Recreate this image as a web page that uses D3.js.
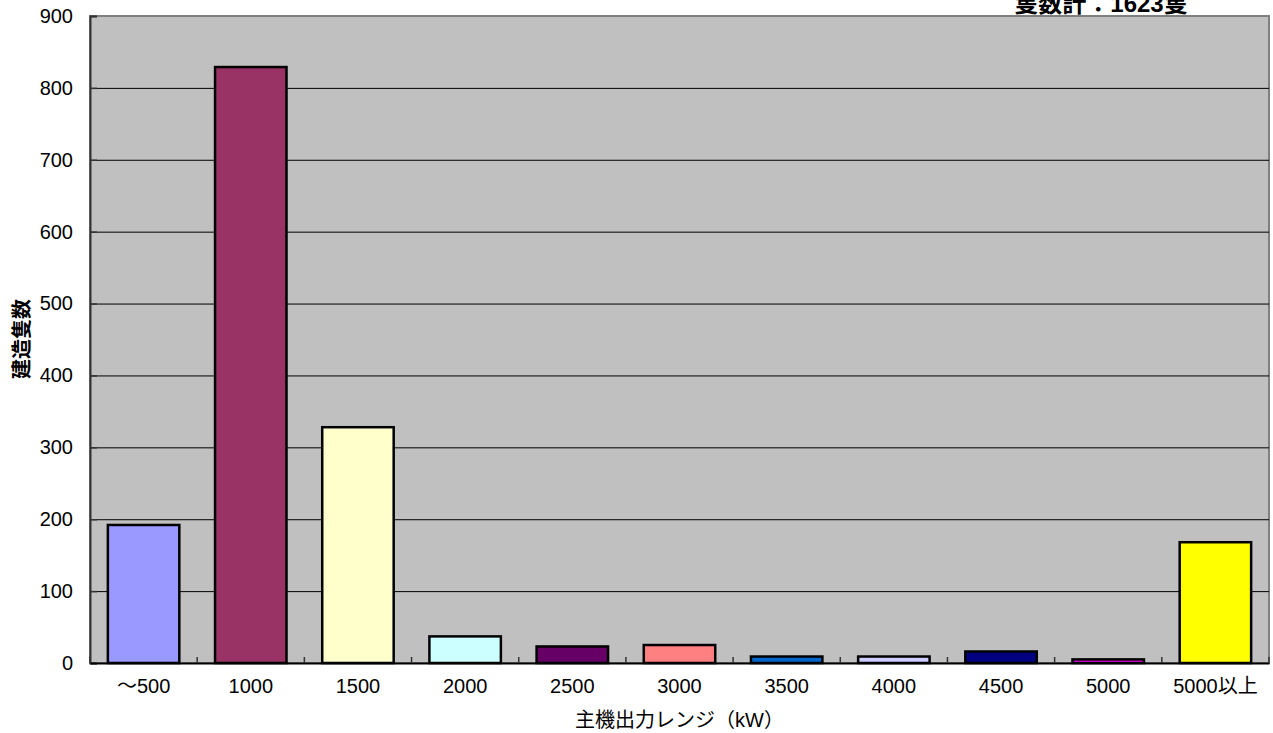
<!DOCTYPE html>
<html lang="ja">
<head>
<meta charset="utf-8" />
<script src="https://d3js.org/d3.v7.min.js"></script>
<style>
  body { margin: 0; background: #fff; }
  svg text { font-family: "Liberation Sans", "Noto Sans CJK JP", sans-serif; fill: #000; }
</style>
</head>
<body>
<svg id="chart" width="1273" height="733"></svg>
<script>
// ---- data ----
var categories = ["～500", "1000", "1500", "2000", "2500", "3000", "3500", "4000", "4500", "5000", "5000以上"];
var counts     = [192, 829, 328, 37, 23, 25, 9, 9, 16, 5, 168];
var barColors  = ["#9999FF", "#993366", "#FFFFCC", "#CCFFFF", "#660066", "#FF8080",
                  "#0066CC", "#CCCCFF", "#000080", "#FF00FF", "#FFFF00"];
var yTicks     = [0, 100, 200, 300, 400, 500, 600, 700, 800, 900];
var titleText  = "隻数計：1623隻";
var xTitle     = "主機出力レンジ（kW）";
var yTitle     = "建造隻数";

// ---- layout ----
var plot = {left: 90, right: 1269, top: 16, bottom: 663};
var svg = d3.select("#chart");

var x = d3.scaleBand()
    .domain(categories)
    .range([plot.left, plot.right])
    .paddingInner(1 / 3)
    .paddingOuter(1 / 6);

var y = d3.scaleLinear()
    .domain([0, 900])
    .range([plot.bottom, plot.top]);

// fond gris
svg.append("rect")
    .attr("x", plot.left).attr("y", plot.top)
    .attr("width", plot.right - plot.left)
    .attr("height", plot.bottom - plot.top)
    .attr("fill", "#C0C0C0")
    .attr("stroke", "#808080")
    .attr("stroke-width", 2);

// grille horizontale
svg.append("g")
    .selectAll("line")
    .data(yTicks.filter(function(d) { return d > 0 && d < 900; }))
    .enter()
    .append("line")
    .attr("x1", plot.left).attr("x2", plot.right)
    .attr("y1", function(d) { return y(d) + 0.5; })
    .attr("y2", function(d) { return y(d) + 0.5; })
    .attr("stroke", "#000")
    .attr("stroke-width", 1);

// barres
svg.append("g")
    .selectAll("rect")
    .data(counts)
    .enter()
    .append("rect")
    .attr("x", function(d, i) { return x(categories[i]); })
    .attr("y", function(d) { return y(d); })
    .attr("width", x.bandwidth())
    .attr("height", function(d) { return y(0) - y(d); })
    .attr("fill", function(d, i) { return barColors[i]; })
    .attr("stroke", "#000")
    .attr("stroke-width", 2.5);

// axe Y
var yAxis = svg.append("g")
    .attr("transform", "translate(" + plot.left + ",0)")
    .call(d3.axisLeft(y).tickValues(yTicks).tickSize(-7).tickPadding(17));
yAxis.select(".domain").attr("stroke", "#333").attr("stroke-width", 2);
yAxis.selectAll(".tick line").attr("stroke", "#333").attr("stroke-width", 1.5);
yAxis.selectAll(".tick text").style("font-size", "20px").style("fill", "#000");

// axe X (graduations entre les categories)
var bounds = d3.range(categories.length + 1).map(function(i) {
    return plot.left + i * (plot.right - plot.left) / categories.length;
});
var xAxis = svg.append("g")
    .attr("transform", "translate(0," + plot.bottom + ")")
    .call(d3.axisBottom(x).tickSize(0).tickPadding(16));
xAxis.select(".domain").attr("stroke", "#000").attr("stroke-width", 2);
xAxis.selectAll(".tick text").style("font-size", "20px").style("fill", "#000");
xAxis.selectAll(".bound")
    .data(bounds)
    .enter()
    .append("line")
    .attr("x1", function(d) { return d; })
    .attr("x2", function(d) { return d; })
    .attr("y1", 0).attr("y2", -6)
    .attr("stroke", "#333")
    .attr("stroke-width", 1.5);

// titres
svg.append("text")
    .attr("x", (plot.left + plot.right) / 2)
    .attr("y", 727)
    .attr("text-anchor", "middle")
    .style("font-size", "20px")
    .text(xTitle);

svg.append("text")
    .attr("transform", "translate(29,339) rotate(-90)")
    .attr("text-anchor", "middle")
    .style("font-size", "20px")
    .style("font-weight", "bold")
    .text(yTitle);

svg.append("text")
    .attr("x", 1101)
    .attr("y", 12)
    .attr("text-anchor", "middle")
    .style("font-size", "24px")
    .style("font-weight", "bold")
    .text(titleText);
</script>
</body>
</html>
